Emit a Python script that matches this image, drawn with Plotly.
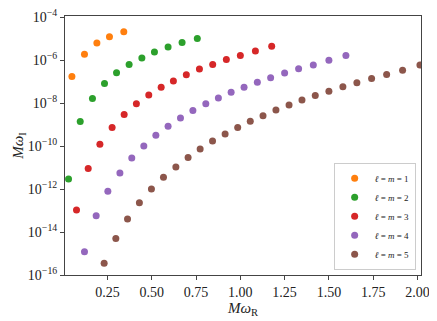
import plotly.graph_objects as go

# данные по модам (читаются с рисунка)
labels = ['1', '2', '3', '4', '5']
colors = ['#ff7f0e', '#2ca02c', '#d62728', '#9467bd', '#8c564b']

wR_1 = [0.049, 0.120, 0.190, 0.261, 0.342]
wI_1 = [1.74e-7, 1.86e-6, 6.2e-6, 1.23e-5, 2.1e-5]

wR_2 = [0.030, 0.096, 0.165, 0.233, 0.301, 0.372, 0.444, 0.515, 0.592, 0.671, 0.757]
wI_2 = [2.95e-12, 1.38e-9, 1.62e-8, 8.1e-8, 2.57e-7, 6.2e-7, 1.26e-6, 2.4e-6, 4.0e-6, 6.6e-6, 1.02e-5]

wR_3 = [0.075, 0.141, 0.207, 0.276, 0.344, 0.413, 0.483, 0.553, 0.622, 0.695, 0.769,
        0.844, 0.921, 1.000, 1.085, 1.177]
wI_3 = [1.07e-13, 8.9e-12, 1.2e-10, 7.2e-10, 2.95e-9, 9.3e-9, 2.4e-8, 5.4e-8, 1.07e-7, 2.1e-7,
        3.8e-7, 6.3e-7, 1.07e-6, 1.62e-6, 2.63e-6, 4.4e-6]

wR_4 = [0.120, 0.186, 0.252, 0.320, 0.387, 0.455, 0.523, 0.592, 0.662, 0.732, 0.805,
        0.876, 0.948, 1.021, 1.096, 1.171, 1.250, 1.329, 1.412, 1.500, 1.596]
wI_4 = [1.2e-15, 5.75e-14, 7.9e-13, 5.5e-12, 2.75e-11, 1.0e-10, 3.2e-10, 8.3e-10, 2.0e-9,
        4.5e-9, 9.3e-9, 1.74e-8, 3.2e-8, 5.5e-8, 9.3e-8, 1.51e-7, 2.5e-7, 3.9e-7, 5.9e-7,
        9.8e-7, 1.62e-6]

wR_5 = [0.231, 0.297, 0.363, 0.430, 0.498, 0.566, 0.636, 0.705, 0.773, 0.843, 0.914,
        0.985, 1.056, 1.128, 1.201, 1.275, 1.348, 1.423, 1.500, 1.579, 1.658, 1.741,
        1.826, 1.916, 2.014]
wI_5 = [3.5e-16, 5.0e-15, 4.0e-14, 2.3e-13, 1.0e-12, 3.5e-12, 1.07e-11, 2.95e-11, 7.2e-11,
        1.7e-10, 3.6e-10, 7.2e-10, 1.41e-9, 2.57e-9, 4.7e-9, 8.1e-9, 1.38e-8, 2.24e-8,
        3.5e-8, 5.75e-8, 8.7e-8, 1.38e-7, 2.14e-7, 3.4e-7, 5.9e-7]

x_ticks = [0.25, 0.50, 0.75, 1.00, 1.25, 1.50, 1.75, 2.00]
x_ticktext = ['0.25', '0.50', '0.75', '1.00', '1.25', '1.50', '1.75', '2.00']
y_ticks = [1e-16, 1e-14, 1e-12, 1e-10, 1e-8, 1e-6, 1e-4]
y_ticktext = ['10<sup>−16</sup>', '10<sup>−14</sup>', '10<sup>−12</sup>', '10<sup>−10</sup>',
              '10<sup>−8</sup>', '10<sup>−6</sup>', '10<sup>−4</sup>']

series = [(wR_1, wI_1), (wR_2, wI_2), (wR_3, wI_3), (wR_4, wI_4), (wR_5, wI_5)]

FONT = 'Liberation Serif'

fig = go.Figure()
for (xs, ys), lab, c in zip(series, labels, colors):
    fig.add_trace(go.Scatter(
        x=xs, y=ys, mode='markers',
        marker=dict(color=c, size=7),
        name=f'<i>ℓ</i> = <i>m</i> = {lab}',
    ))

axis_common = dict(
    showline=True, linecolor='#444', linewidth=1, mirror=True,
    ticks='outside', ticklen=4, tickcolor='#444', tickwidth=1,
    showgrid=False, zeroline=False, automargin=False,
    ticklabeloverflow='allow',
    tickfont=dict(family=FONT, size=14, color='#222'),
)

# страница добавляет отступ ~8px слева и сверху, поэтому размер и поля чуть меньше
fig.update_layout(
    width=429, height=313,
    margin=dict(l=57, r=16, t=8, b=46),
    plot_bgcolor='white', paper_bgcolor='white',
    font=dict(family=FONT, color='#222'),
    xaxis=dict(range=[0.01, 2.02], tickvals=x_ticks, ticktext=x_ticktext,
               title=dict(text='<i>Mω</i><sub>R</sub>', font=dict(family=FONT, size=15), standoff=0),
               **axis_common),
    yaxis=dict(type='log', range=[-16, -3.95], tickvals=y_ticks, ticktext=y_ticktext,
               title=dict(text='<i>Mω</i><sub>I</sub>', font=dict(family=FONT, size=15), standoff=0),
               **axis_common),
    legend=dict(x=0.985, y=0.02, xanchor='right', yanchor='bottom',
                bgcolor='white', bordercolor='#ccc', borderwidth=1,
                font=dict(family=FONT, size=9), itemwidth=30,
                tracegroupgap=0),
)

fig.write_html('out.html')
